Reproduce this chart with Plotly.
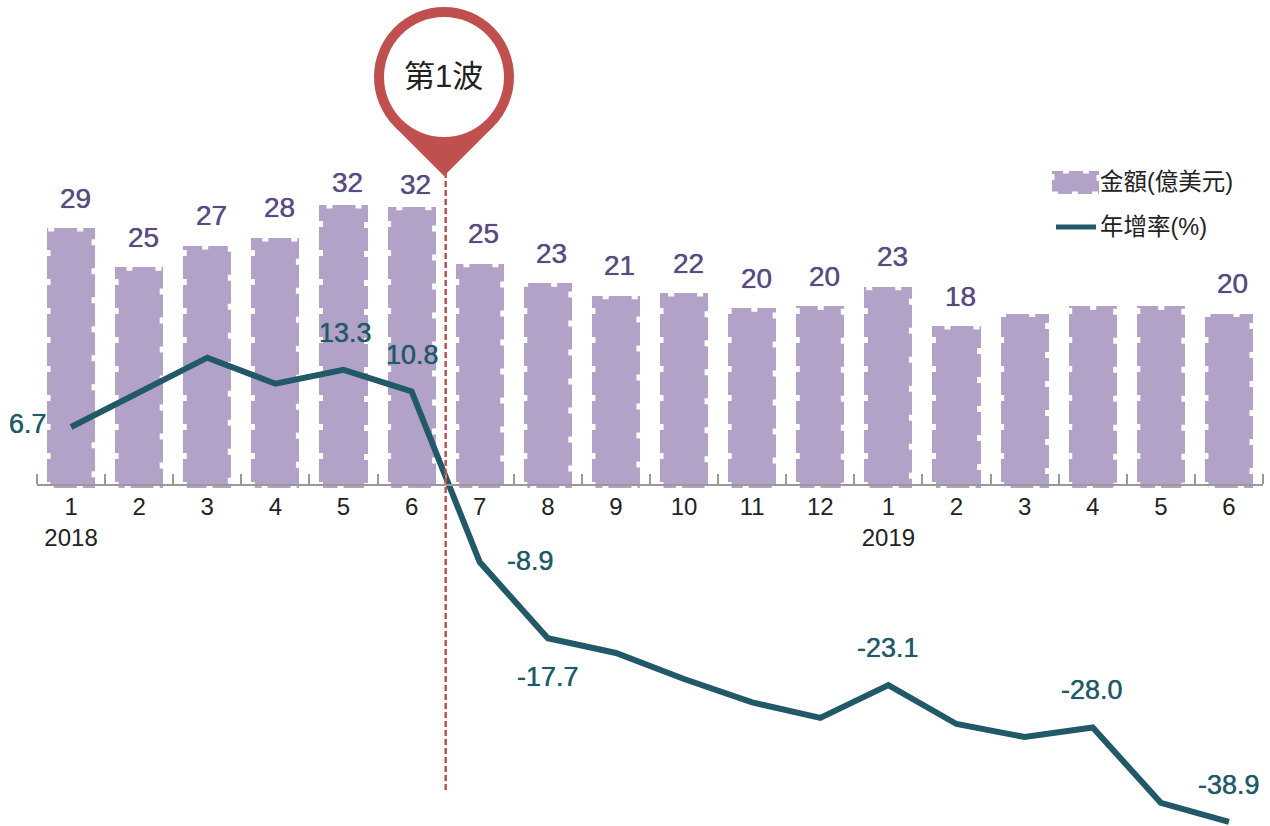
import plotly.graph_objects as go

MONTHS = ["1", "2", "3", "4", "5", "6", "7", "8", "9", "10", "11", "12", "1", "2", "3", "4", "5", "6"]
TICK_LABELS = ["1<br>2018", "2", "3", "4", "5", "6", "7", "8", "9", "10", "11", "12", "1<br>2019", "2", "3", "4", "5", "6"]
AMOUNT = [29.2, 24.8, 27.2, 28.1, 31.8, 31.6, 25.2, 23.0, 21.6, 21.9, 20.2, 20.4, 22.6, 18.2, 19.6, 20.4, 20.4, 19.6]
GROWTH = [6.7, 10.7, 14.7, 11.7, 13.3, 10.8, -8.9, -17.7, -19.4, -22.4, -25.1, -26.9, -23.1, -27.6, -29.1, -28.0, -36.7, -38.9]
BAR_LABELS = {0: "29", 1: "25", 2: "27", 3: "28", 4: "32", 5: "32", 6: "25", 7: "23", 8: "21", 9: "22", 10: "20", 11: "20", 12: "23", 13: "18", 17: "20"}
# index -> (text, x shift px, y shift px)
LINE_LABELS = {0: ("6.7", -43, 3), 4: ("13.3", 2, 37), 5: ("10.8", 1, 36), 6: ("-8.9", 51, 1),
               7: ("-17.7", 0, -39), 12: ("-23.1", 0, 37), 15: ("-28.0", -1, 37), 17: ("-38.9", 0, 37)}
WAVE_AT = 5.5
SERIES_NAMES = ["金額(億美元)", "年增率(%)"]

W, H = 1270, 826
PURPLE, TEAL, RED = "#b3a2c7", "#215968", "#c0504d"
BAR_W = 0.705
LATIN = "Liberation Sans, Arial, sans-serif"
CJK = "Liberation Sans, Noto Sans CJK TC, sans-serif"

x = list(range(len(AMOUNT)))
fig = go.Figure()
fig.add_bar(x=x, y=AMOUNT, width=BAR_W, marker=dict(color=PURPLE, line=dict(width=0)),
            name=SERIES_NAMES[0], showlegend=False, yaxis="y", xaxis="x")

ox, oy = [], []
for i, v in zip(x, AMOUNT):
    l, r = i - BAR_W / 2, i + BAR_W / 2
    ox += [l, l, r, r, l, None]
    oy += [0, v, v, 0, 0, None]
fig.add_scatter(x=ox, y=oy, mode="lines", line=dict(color="white", width=7, dash="6px,23px"),
                hoverinfo="skip", showlegend=False, yaxis="y", xaxis="x")
fig.add_scatter(x=x, y=GROWTH, mode="lines", line=dict(color=TEAL, width=6),
                name=SERIES_NAMES[1], showlegend=False, yaxis="y2", xaxis="x")

ann = []
for i, t in BAR_LABELS.items():
    ann.append(dict(x=i, y=AMOUNT[i], xref="x", yref="y", text=t, showarrow=False, xshift=4,
                    yshift=22 if i in (4, 5) else 30,
                    font=dict(family=LATIN, size=28, color="#5a4a82", shadow="0 0 0.8px #5a4a82")))
for i, (t, dx, dy) in LINE_LABELS.items():
    ann.append(dict(x=i, y=GROWTH[i], xref="x", yref="y2", text=t, showarrow=False, xshift=dx, yshift=dy,
                    font=dict(family=LATIN, size=27, color=TEAL, shadow="0 0 0.8px " + TEAL)))

def px(v):
    return v / W
def py(v):
    return 1 - v / H

cx, cy, R, r_in, tip = 444, 77, 70, 60, 176
shapes = [
    dict(type="line", xref="x", yref="paper", x0=WAVE_AT, x1=WAVE_AT, y0=py(790), y1=py(170),
         line=dict(color=RED, width=2.5, dash="6px,3px"), layer="above"),
    dict(type="path", xref="paper", yref="paper", fillcolor=RED, line=dict(width=0),
         path=f"M {px(cx)} {py(tip)} L {px(cx - 49.5)} {py(cy + 49.5)} L {px(cx + 49.5)} {py(cy + 49.5)} Z"),
    dict(type="circle", xref="paper", yref="paper", fillcolor=RED, line=dict(width=0),
         x0=px(cx - R), x1=px(cx + R), y0=py(cy + R), y1=py(cy - R)),
    dict(type="circle", xref="paper", yref="paper", fillcolor="white", line=dict(width=0),
         x0=px(cx - r_in), x1=px(cx + r_in), y0=py(cy + r_in), y1=py(cy - r_in)),
    # legend swatches
    dict(type="rect", xref="paper", yref="paper", fillcolor=PURPLE, line=dict(color="white", width=5, dash="6px,14px"),
         x0=px(1052), x1=px(1099), y0=py(194), y1=py(171)),
    dict(type="line", xref="paper", yref="paper", line=dict(color=TEAL, width=5),
         x0=px(1056), x1=px(1096), y0=py(227), y1=py(227)),
]
ann += [
    dict(x=px(443), y=py(75), xref="paper", yref="paper", text="第1波", showarrow=False, yshift=18,
         font=dict(family=CJK, size=31, color="#222222")),
    dict(x=px(1098), y=py(181), xref="paper", yref="paper", text=SERIES_NAMES[0], showarrow=False, xanchor="left", yshift=14,
         font=dict(family=CJK, size=23.5, color="#222222")),
    dict(x=px(1098), y=py(227), xref="paper", yref="paper", text=SERIES_NAMES[1], showarrow=False, xanchor="left", yshift=15,
         font=dict(family=CJK, size=23.5, color="#222222")),
]

fig.update_layout(
    width=W, height=H, margin=dict(l=0, r=0, t=0, b=0), paper_bgcolor="white", plot_bgcolor="white",
    showlegend=False, bargap=0, annotations=ann, shapes=shapes,
    font=dict(family=LATIN),
    xaxis=dict(domain=[37 / W, 1263 / W], range=[-0.5, 17.5], anchor="free", position=1 - 485 / H,
               tickmode="array", tickvals=x, ticktext=TICK_LABELS, ticks="", showgrid=False, zeroline=False,
               showline=True, linecolor="#999999", linewidth=1.5, ticklabelstandoff=0,
               tickfont=dict(family=LATIN, size=24, color="#222222"),
               minor=dict(tickmode="array", tickvals=[i - 0.5 for i in range(len(x) + 1)], ticks="inside",
                          ticklen=10, tickwidth=1.5, tickcolor="#999999", showgrid=False)),
    yaxis=dict(domain=[0, 1], range=[(488 - H) / 8.9, 488 / 8.9], visible=False, fixedrange=True),
    yaxis2=dict(domain=[0, 1], range=[(485 - H) / 8.66, 485 / 8.66], visible=False, overlaying="y", fixedrange=True),
)
fig.write_html("out.html", post_script="document.body.style.margin='0';", config=dict(displayModeBar=False))
